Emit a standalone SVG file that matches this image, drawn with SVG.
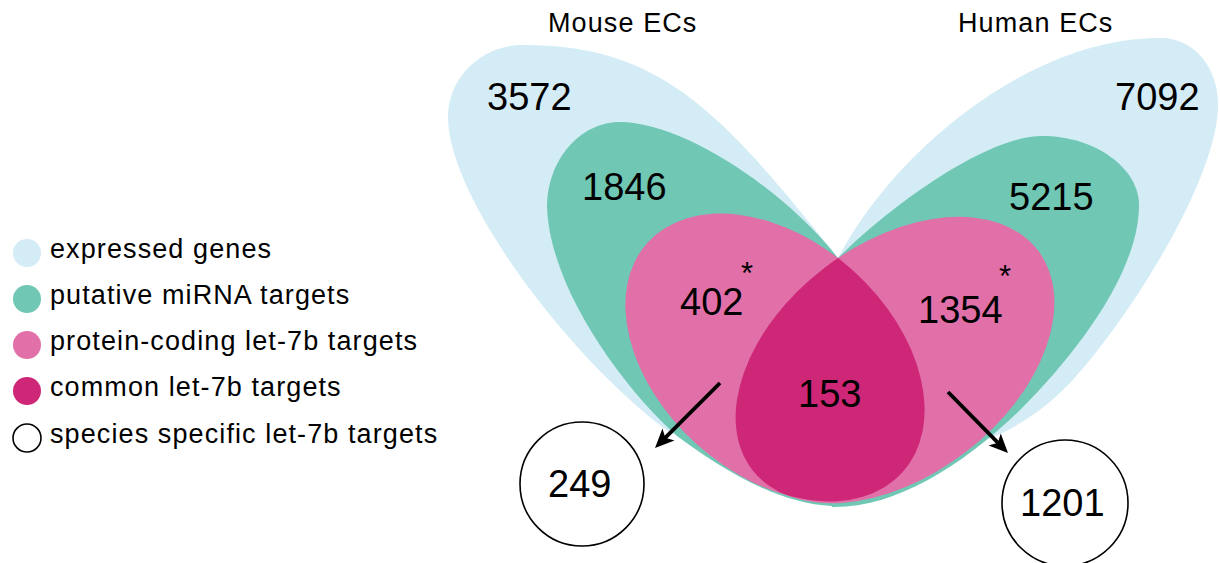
<svg xmlns="http://www.w3.org/2000/svg" width="1220" height="563" viewBox="0 0 1220 563">
  <style>
    .lbl { font-family: "Liberation Sans", Arial, sans-serif; font-size: 27px; letter-spacing: 1.1px; fill: #000; }
    .num { font-family: "Liberation Sans", Arial, sans-serif; font-size: 38px; fill: #000; }
    .ast { font-family: "Liberation Sans", Arial, sans-serif; font-size: 31px; fill: #000; }
    .expr { fill: #D4ECF5; }
    .mirna { fill: #6FC7B4; }
    .let7 { fill: #E170A9; }
    .common { fill: #CE2777; }
    .spec { fill: #fff; stroke: #000; stroke-width: 1.6; }
    .arrow { stroke: #000; stroke-width: 3.8; fill: none; marker-end: url(#head); }
  </style>
  <defs>
    <marker id="head" markerUnits="userSpaceOnUse" markerWidth="22" markerHeight="22" viewBox="0 0 22 22" refX="11" refY="11" orient="auto" overflow="visible">
      <path d="M2,2.5 L21,11 L2,19.5 L6.5,11 Z" fill="#000"/>
    </marker>
    <ellipse id="leftPinkShape" cx="775" cy="357.5" rx="171.6" ry="116.9" transform="rotate(42 775 357.5)"/>
    <ellipse id="rightPinkShape" cx="895" cy="360" rx="180.1" ry="116.1" transform="rotate(-37.5 895 360)"/>
    <clipPath id="leftPinkClip">
      <use href="#leftPinkShape"/>
    </clipPath>
  </defs>

  <rect width="1220" height="563" fill="#fff"/>

  <!-- species headers -->
  <text class="lbl" x="548" y="32">Mouse ECs</text>
  <text class="lbl" x="958" y="32">Human ECs</text>

  <!-- expressed genes -->
  <g id="mouse-expressed">
    <path class="expr" d="M838,258 C720,110 660,45 523,45 C482,45 448,77 448,117 C448,200 575,365 672,434 L720,420 Z"/>
  </g>
  <g id="human-expressed">
    <path class="expr" d="M838,258 C895,150 1030,38 1160,38 C1195,38 1218,68 1218,105 C1218,180 1125,325 1068,385 C1040,414 1008,432 985,440 L950,420 Z"/>
  </g>

  <!-- putative miRNA targets -->
  <g id="mouse-mirna">
    <path class="mirna" d="M838,258 C780,185 680,122 620,122 C580,122 547,160 547,207 C550,290 625,390 677,436 C715,464 775,504 832,506 Z"/>
  </g>
  <g id="human-mirna">
    <path class="mirna" d="M838,258 C880,215 982,136 1042,136 C1095,136 1139,168 1139,205 C1139,270 1080,350 1020,410 C962,466 895,508 832,507 Z"/>
  </g>

  <!-- protein-coding let-7b targets -->
  <g id="mouse-let7b">
    <use href="#leftPinkShape" class="let7"/>
  </g>
  <g id="human-let7b">
    <use href="#rightPinkShape" class="let7"/>
  </g>

  <!-- common let-7b targets: overlap of both let-7b sets -->
  <g id="common-let7b" clip-path="url(#leftPinkClip)">
    <use href="#rightPinkShape" class="common"/>
  </g>

  <!-- species specific let-7b targets -->
  <g id="mouse-specific">
    <circle class="spec" cx="582" cy="484" r="62"/>
    <text class="num" x="548" y="497">249</text>
  </g>
  <g id="human-specific">
    <circle class="spec" cx="1065" cy="503" r="63"/>
    <text class="num" x="1020" y="516">1201</text>
  </g>

  <!-- region counts -->
  <g id="counts">
    <text class="num" x="487" y="110">3572</text>
    <text class="num" x="582" y="200">1846</text>
    <text class="num" x="680" y="315">402</text>
    <text class="ast" x="741" y="284">*</text>
    <text class="num" x="798" y="407">153</text>
    <text class="num" x="1115" y="110">7092</text>
    <text class="num" x="1009" y="210">5215</text>
    <text class="num" x="918" y="323">1354</text>
    <text class="ast" x="999" y="287">*</text>
  </g>

  <!-- connectors -->
  <g id="connectors">
    <line class="arrow" x1="720" y1="383" x2="662.1" y2="440.9"/>
    <line class="arrow" x1="948" y1="392" x2="1001" y2="445.9"/>
  </g>

  <!-- legend -->
  <g id="legend">
    <circle class="expr" cx="27" cy="253" r="14"/>
    <text class="lbl" x="50" y="258">expressed genes</text>
    <circle class="mirna" cx="27" cy="299" r="14"/>
    <text class="lbl" x="50" y="304">putative miRNA targets</text>
    <circle class="let7" cx="27" cy="345" r="14"/>
    <text class="lbl" x="50" y="350">protein-coding let-7b targets</text>
    <circle class="common" cx="27" cy="391" r="14"/>
    <text class="lbl" x="50" y="396">common let-7b targets</text>
    <circle class="spec" cx="27" cy="438" r="14"/>
    <text class="lbl" x="50" y="443">species specific let-7b targets</text>
  </g>
</svg>
